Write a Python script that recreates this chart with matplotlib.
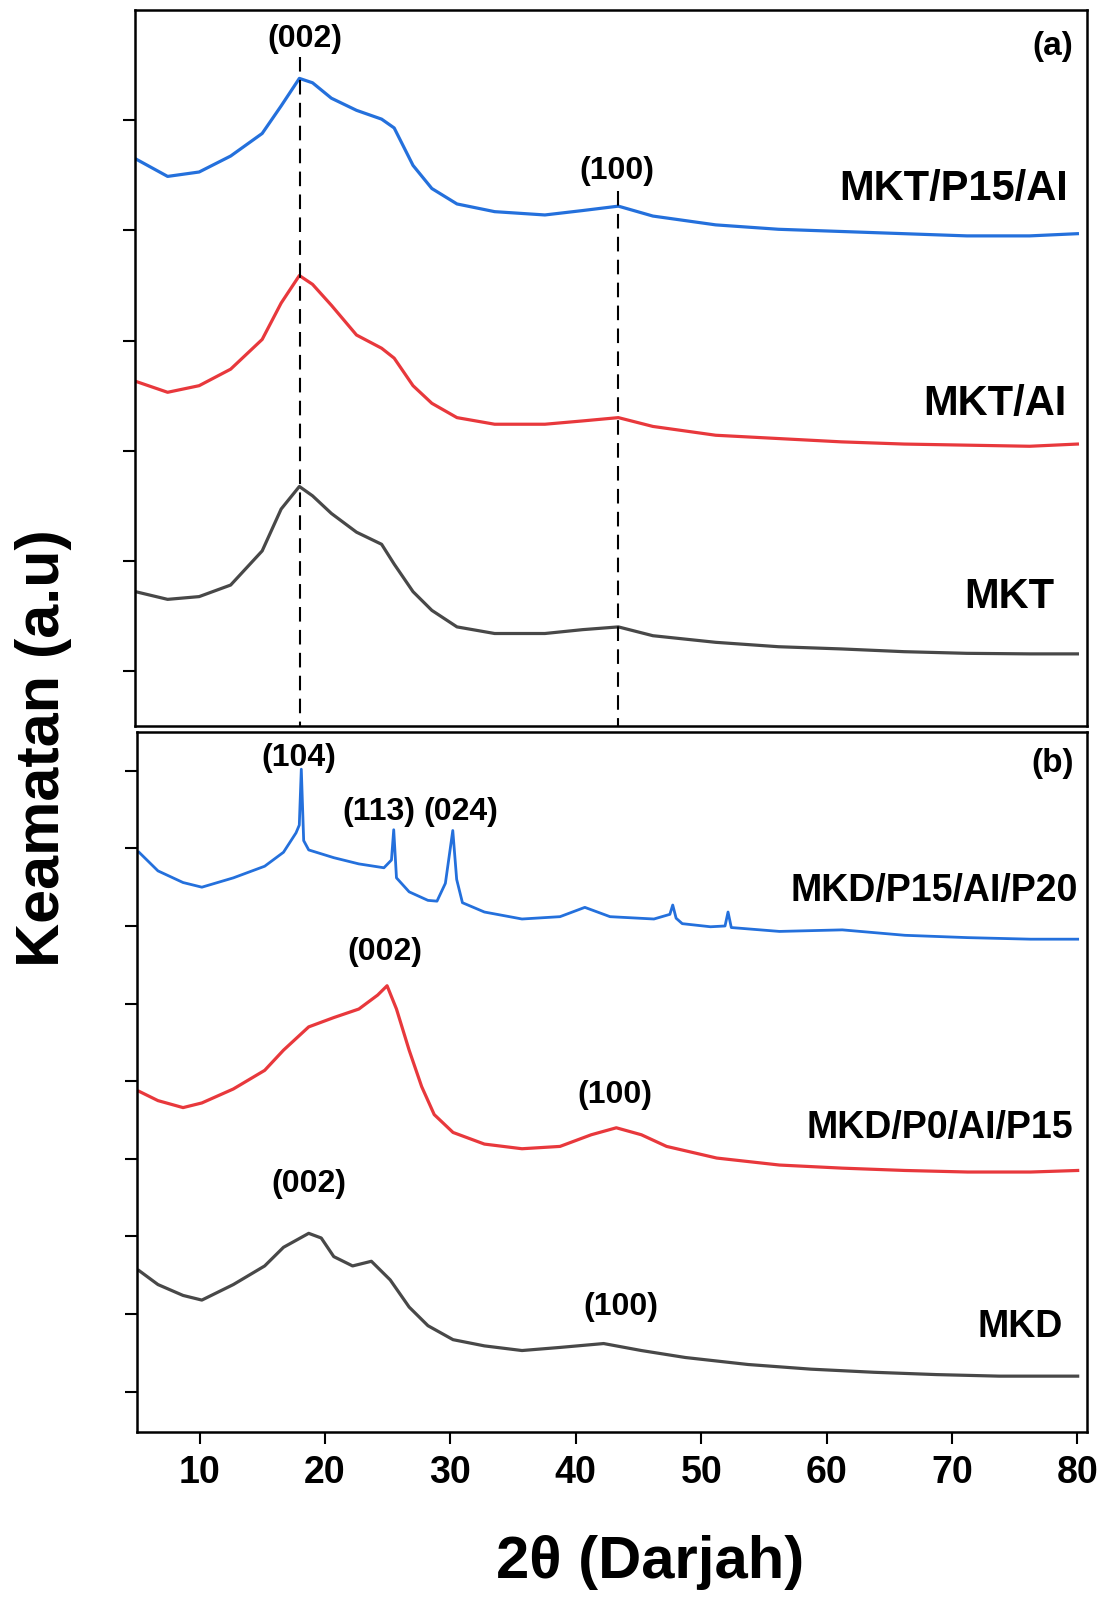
import matplotlib
matplotlib.use('Agg')
import matplotlib.pyplot as plt

plt.rcParams['font.family'] = ['Liberation Sans', 'DejaVu Sans']
plt.rcParams['font.weight'] = 'bold'

# panel (a), y in tick units (ticks at 0..5)
a_x = [5.0, 7.56, 10.07, 12.58, 15.09, 16.6, 18.05, 19.1, 20.6, 22.6, 24.6, 25.6, 27.1,
       28.6, 30.6, 33.6, 37.6, 40.6, 43.45, 46.2, 51.2, 56.2, 61.2, 66.2, 71.2, 76.2, 80.0]
mkt_p15_al = [4.65, 4.49, 4.53, 4.675, 4.88, 5.13, 5.38, 5.34, 5.20, 5.09, 5.01, 4.93, 4.59,
              4.38, 4.24, 4.17, 4.14, 4.18, 4.22, 4.13, 4.05, 4.01, 3.99, 3.97, 3.95, 3.95, 3.97]
mkt_al = [2.63, 2.53, 2.59, 2.74, 3.01, 3.34, 3.59, 3.51, 3.32, 3.05, 2.93, 2.84, 2.59,
          2.43, 2.30, 2.24, 2.24, 2.27, 2.30, 2.22, 2.14, 2.11, 2.08, 2.06, 2.05, 2.04, 2.06]
mkt = [0.72, 0.65, 0.675, 0.78, 1.09, 1.47, 1.675, 1.59, 1.43, 1.26, 1.15, 0.97, 0.72,
       0.55, 0.40, 0.34, 0.34, 0.375, 0.40, 0.32, 0.26, 0.22, 0.20, 0.175, 0.16, 0.155, 0.155]

# panel (b)
b_blue_x = [5.17, 6.68, 8.68, 10.18, 12.69, 15.19, 16.69, 17.69, 17.95, 18.11, 18.3, 18.7,
            20.7, 22.7, 24.7, 25.3, 25.48, 25.7, 26.71, 28.21, 28.93, 29.6, 30.19, 30.5,
            30.96, 32.71, 35.71, 38.74, 40.72, 42.73, 46.23, 47.5, 47.73, 48.0, 48.49,
            50.74, 51.9, 52.14, 52.4, 56.24, 61.25, 66.25, 71.26, 76.27, 80.02]
mkd_p15_al_p20 = [6.95, 6.71, 6.56, 6.50, 6.62, 6.77, 6.95, 7.20, 7.3, 8.02, 7.1, 6.98,
                  6.88, 6.80, 6.75, 6.85, 7.24, 6.62, 6.44, 6.33, 6.32, 6.55, 7.23, 6.60,
                  6.30, 6.18, 6.09, 6.12, 6.24, 6.12, 6.09, 6.15, 6.27, 6.10, 6.03,
                  5.99, 6.0, 6.18, 5.98, 5.93, 5.95, 5.88, 5.85, 5.83, 5.83]
b_red_x = [5.17, 6.68, 8.68, 10.18, 12.69, 15.19, 16.69, 18.7, 20.7, 22.7, 24.2, 24.95,
           25.7, 26.71, 27.71, 28.71, 30.21, 32.71, 35.71, 38.74, 41.23, 43.23, 45.23,
           47.24, 51.24, 56.24, 61.25, 66.25, 71.26, 76.27, 80.02]
mkd_p0_al_p15 = [3.87, 3.75, 3.66, 3.72, 3.90, 4.14, 4.40, 4.70, 4.82, 4.93, 5.11, 5.23,
                 4.93, 4.40, 3.93, 3.57, 3.34, 3.19, 3.13, 3.16, 3.31, 3.40, 3.31,
                 3.16, 3.01, 2.92, 2.88, 2.85, 2.83, 2.83, 2.85]
b_grey_x = [5.17, 6.68, 8.68, 10.18, 12.69, 15.19, 16.69, 18.70, 19.7, 20.70, 22.2, 23.7,
            25.20, 26.71, 28.21, 30.21, 32.71, 35.71, 38.74, 42.22, 45.23, 48.74, 53.74,
            58.75, 63.75, 68.76, 73.77, 80.02]
mkd = [1.56, 1.38, 1.24, 1.18, 1.38, 1.62, 1.86, 2.04, 1.98, 1.74, 1.62, 1.68,
       1.44, 1.09, 0.85, 0.67, 0.59, 0.53, 0.57, 0.62, 0.53, 0.44, 0.35,
       0.29, 0.25, 0.22, 0.20, 0.20]

# annotations: (text, x, y)
a_peaks = [('(002)', 18.5, 5.74), ('(100)', 43.3, 4.54)]
a_names = [('MKT/P15/AI', 79.26, 4.38), ('MKT/AI', 79.1, 2.42), ('MKT', 78.2, 0.67)]
a_dashes = [(18.1, 5.57), (43.45, 4.36)]
b_peaks = [('(104)', 17.9, 8.17), ('(113)', 24.3, 7.47), ('(024)', 30.8, 7.47),
           ('(002)', 24.8, 5.67), ('(100)', 43.15, 3.82),
           ('(002)', 18.7, 2.67), ('(100)', 43.6, 1.09)]
b_names = [('MKD/P15/AI/P20', 80.06, 6.45), ('MKD/P0/AI/P15', 79.66, 3.40), ('MKD', 78.85, 0.83)]

blue = '#2470dc'
red = '#e8383c'
grey = '#484848'

fig = plt.figure(figsize=(11.04, 16.02), dpi=100)
ax1 = fig.add_axes([0.1227, 0.5468, 0.8623, 0.4469])
ax2 = fig.add_axes([0.1240, 0.1061, 0.8610, 0.4370])

ax1.plot(a_x, mkt_p15_al, color=blue, linewidth=2.3)
ax1.plot(a_x, mkt_al, color=red, linewidth=2.3)
ax1.plot(a_x, mkt, color=grey, linewidth=2.3)
for xd, ytop in a_dashes:
    ax1.plot([xd, xd], [ytop, -0.5], color='black', linewidth=1.5, dashes=(7, 4))
for t, x, y in a_peaks:
    ax1.text(x, y, t, fontsize=23, fontweight='bold', ha='center', va='center')
for t, x, y in a_names:
    ax1.text(x, y, t, fontsize=30, fontweight='bold', ha='right', va='center')
ax1.text(78.0, 5.67, '(a)', fontsize=24, fontweight='bold', ha='center', va='center')
ax1.set_ylim(-0.5, 6.0)
ax1.set_yticks(range(0, 6))
ax1.set_xticks([])

ax2.plot(b_blue_x, mkd_p15_al_p20, color=blue, linewidth=2.0)
ax2.plot(b_red_x, mkd_p0_al_p15, color=red, linewidth=2.3)
ax2.plot(b_grey_x, mkd, color=grey, linewidth=2.3)
for t, x, y in b_peaks:
    ax2.text(x, y, t, fontsize=23, fontweight='bold', ha='center', va='center')
for t, x, y in b_names:
    ax2.text(x, y, t, fontsize=27, fontweight='bold', ha='right', va='center')
ax2.text(78.0, 8.09, '(b)', fontsize=24, fontweight='bold', ha='center', va='center')
ax2.set_ylim(-0.52, 8.5)
ax2.set_yticks(range(0, 9))
ax2.set_xticks(range(10, 90, 10))

for ax in (ax1, ax2):
    ax.set_xlim(5.0, 80.8)
    ax.set_yticklabels([])
    for s in ax.spines.values():
        s.set_linewidth(1.8)
    ax.tick_params(axis='y', direction='out', length=8.5, width=1.5, left=True, right=False)
    ax.tick_params(axis='x', direction='out', length=8.5, width=1.5, labelsize=27, pad=8)
for lab in ax2.get_xticklabels():
    lab.set_fontweight('bold')

fig.text(650 / 1104, 1 - 1563 / 1602, '2θ (Darjah)', fontsize=43, fontweight='bold',
         ha='center', va='center')
fig.text(44 / 1104, 1 - 748 / 1602, 'Keamatan (a.u)', fontsize=44, fontweight='bold',
         ha='center', va='center', rotation=90)

fig.savefig('out.png', dpi=100)
